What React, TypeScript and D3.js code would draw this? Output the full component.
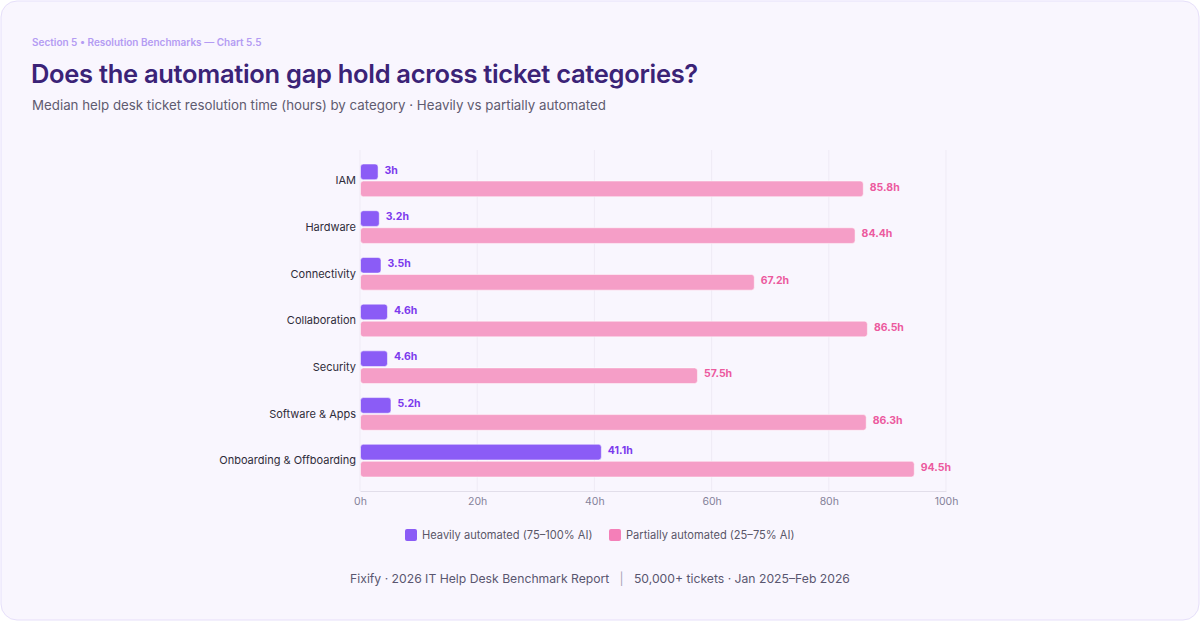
import React from 'react';
import * as d3 from 'd3';

const categories = [
  'IAM',
  'Hardware',
  'Connectivity',
  'Collaboration',
  'Security',
  'Software & Apps',
  'Onboarding & Offboarding',
];
const heavilyAutomated = [3, 3.2, 3.5, 4.6, 4.6, 5.2, 41.1];
const partiallyAutomated = [85.8, 84.4, 67.2, 86.5, 57.5, 86.3, 94.5];
const xTicks = [0, 20, 40, 60, 80, 100];
const seriesNames = ['Heavily automated (75–100% AI)', 'Partially automated (25–75% AI)'];

const WIDTH = 1200;
const HEIGHT = 621;
const FONT = 'Inter, "Noto Sans", sans-serif';

function App() {
  const svgRef = React.useRef<SVGSVGElement>(null);

  React.useEffect(() => {
    const svg = d3.select(svgRef.current);
    svg.selectAll('*').remove();

    const margin = { top: 150, right: 254, bottom: 130, left: 360 };

    // card background
    svg
      .append('rect')
      .attr('x', 1)
      .attr('y', 1)
      .attr('width', WIDTH - 2)
      .attr('height', HEIGHT - 2)
      .attr('rx', 16)
      .attr('fill', '#f9f6fe')
      .attr('stroke', '#e6dffa')
      .attr('stroke-width', 1);

    // header
    svg
      .append('text')
      .attr('x', 32)
      .attr('y', 46)
      .attr('font-family', FONT)
      .attr('font-size', 10)
      .attr('font-weight', 600)
      .attr('fill', '#b49cf3')
      .text('Section 5 • Resolution Benchmarks — Chart 5.5');

    svg
      .append('text')
      .attr('x', 31)
      .attr('y', 83)
      .attr('font-family', FONT)
      .attr('font-size', 25.5)
      .attr('font-weight', 600)
      .attr('letter-spacing', -0.3)
      .attr('fill', '#3b2377')
      .text('Does the automation gap hold across ticket categories?');

    svg
      .append('text')
      .attr('x', 32)
      .attr('y', 110)
      .attr('font-family', FONT)
      .attr('font-size', 13.3)
      .attr('fill', '#5f5b70')
      .text('Median help desk ticket resolution time (hours) by category · Heavily vs partially automated');

    const xScale = d3
      .scaleLinear()
      .domain([0, 100])
      .range([margin.left, WIDTH - margin.right]);

    const yScale = d3
      .scaleBand()
      .domain(categories)
      .range([margin.top, HEIGHT - margin.bottom])
      .paddingInner(0.3)
      .paddingOuter(0.3);

    const subScale = d3
      .scaleBand()
      .domain(['heavy', 'partial'])
      .range([0, yScale.bandwidth()])
      .paddingInner(0.08);

    const plotBottom = HEIGHT - margin.bottom;

    // grid
    svg
      .append('g')
      .selectAll('line')
      .data(xTicks)
      .enter()
      .append('line')
      .attr('x1', (d) => xScale(d))
      .attr('x2', (d) => xScale(d))
      .attr('y1', margin.top)
      .attr('y2', plotBottom)
      .attr('stroke', '#efebf5')
      .attr('stroke-width', 1);

    // x axis
    const xAxis = svg
      .append('g')
      .attr('transform', `translate(0, ${plotBottom})`)
      .call(
        d3
          .axisBottom(xScale)
          .tickValues(xTicks)
          .tickSize(0)
          .tickPadding(7)
          .tickFormat((d) => `${d}h`)
      );
    xAxis.select('.domain').attr('stroke', '#e2deea');
    xAxis
      .selectAll('text')
      .attr('font-family', FONT)
      .attr('font-size', 10.5)
      .attr('fill', '#85829a');

    // category labels
    svg
      .append('g')
      .selectAll('text')
      .data(categories)
      .enter()
      .append('text')
      .attr('x', margin.left - 4)
      .attr('y', (d) => (yScale(d) as number) + yScale.bandwidth() / 2)
      .attr('dy', '0.35em')
      .attr('text-anchor', 'end')
      .attr('font-family', FONT)
      .attr('font-size', 11)
      .attr('fill', '#2f2c3a')
      .text((d) => d);

    const series = [
      { key: 'heavy', values: heavilyAutomated, fill: '#8b5cf6', label: '#7c3aed' },
      { key: 'partial', values: partiallyAutomated, fill: '#f59ec7', label: '#ec5a9e' },
    ];

    series.forEach((s) => {
      const g = svg.append('g');
      const rows = categories.map((c, i) => ({ category: c, value: s.values[i] }));

      g.selectAll('rect')
        .data(rows)
        .enter()
        .append('rect')
        .attr('x', xScale(0) + 0.5)
        .attr('y', (d) => (yScale(d.category) as number) + (subScale(s.key) as number))
        .attr('width', (d) => xScale(d.value) - xScale(0))
        .attr('height', subScale.bandwidth())
        .attr('rx', 3)
        .attr('fill', s.fill)
        .attr('stroke', '#ffffff')
        .attr('stroke-opacity', 0.5)
        .attr('stroke-width', 1);

      g.selectAll('text')
        .data(rows)
        .enter()
        .append('text')
        .attr('x', (d) => xScale(d.value) + 7)
        .attr('y', (d) => (yScale(d.category) as number) + (subScale(s.key) as number) + subScale.bandwidth() / 2 - 2)
        .attr('dy', '0.35em')
        .attr('font-family', FONT)
        .attr('font-size', 10.5)
        .attr('font-weight', 700)
        .attr('fill', s.label)
        .text((d) => `${d.value}h`);
    });

    // legend
    const legendColors = ['#8b5cf6', '#f47fb8'];
    const legendX = [405, 609];
    seriesNames.forEach((name, i) => {
      svg
        .append('rect')
        .attr('x', legendX[i])
        .attr('y', 529)
        .attr('width', 12)
        .attr('height', 12)
        .attr('rx', 2)
        .attr('fill', legendColors[i]);
      svg
        .append('text')
        .attr('x', legendX[i] + 17)
        .attr('y', 535)
        .attr('dy', '0.35em')
        .attr('font-family', FONT)
        .attr('font-size', 11.1)
        .attr('fill', '#5a5668')
        .text(name);
    });

    // footer
    const footer = svg
      .append('text')
      .attr('x', WIDTH / 2)
      .attr('y', 583)
      .attr('text-anchor', 'middle')
      .attr('font-family', FONT)
      .attr('font-size', 12.2)
      .attr('fill', '#5a5670');
    footer.append('tspan').text('Fixify · 2026 IT Help Desk Benchmark Report');
    footer.append('tspan').attr('fill', '#a9a5b8').text('   |   ').attr('xml:space', 'preserve');
    footer.append('tspan').text('50,000+ tickets · Jan 2025–Feb 2026');
  }, []);

  return (
    <svg
      ref={svgRef}
      width={WIDTH}
      height={HEIGHT}
      style={{ position: 'absolute', left: 0, top: 0, background: '#ffffff' }}
    ></svg>
  );
}

export default App;
